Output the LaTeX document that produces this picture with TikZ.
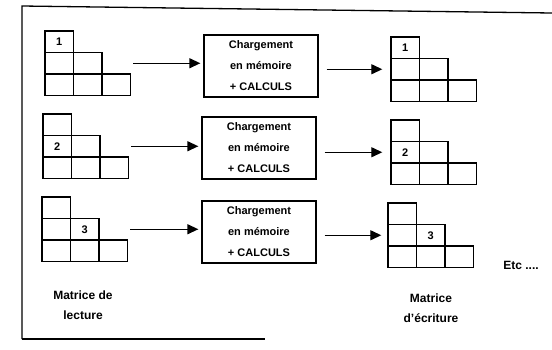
\documentclass[tikz,border=0pt]{standalone}
\usepackage{fontspec}
\setmainfont{Liberation Sans}
\usetikzlibrary{arrows.meta}
\tikzset{
  cell/.style={draw, line width=1.4pt, minimum width=28.5pt, minimum height=21.5pt,
    inner sep=0pt, font=\fontsize{11}{12}\selectfont\bfseries},
  procbox/.style={draw, line width=1.3pt, minimum width=114pt, minimum height=62pt,
    align=center, inner sep=0pt, font=\fontsize{11}{21}\selectfont\bfseries},
  flow/.style={line width=1.3pt, -{Triangle[length=11pt,width=10pt]}},
  lbl/.style={align=center, font=\fontsize{12}{20}\selectfont\bfseries},
  frameline/.style={line width=1.3pt}
}
\newcommand{\tmat}[5]{%
  \foreach \ri in {1,2,3}{\foreach \ci in {1,...,\ri}{%
    \ifnum\ri\ci=#4\relax\def\celltxt{#5}\else\def\celltxt{}\fi
    \node[cell] (#1-\ri\ci) at ({#2+28.5*(\ci-0.5)},{#3+21.5*(\ri-0.5)}) {\celltxt};}}}
\begin{document}
\begin{tikzpicture}[x=1pt,y=-1pt]
\useasboundingbox (0,0) rectangle (552,349);
% frame
\draw[frameline] (22,339) -- (22,6) -- (552,13);
\draw[frameline] (22,339) -- (265,339);
% reading matrices
\tmat{L1}{45}{31}{11}{1}
\tmat{L2}{43}{114}{21}{2}
\tmat{L3}{42}{197}{22}{3}
% writing matrices
\tmat{R1}{391}{37}{11}{1}
\tmat{R2}{391}{120}{21}{2}
\tmat{R3}{388}{203}{22}{3}
% processing boxes
\node[procbox] (b1) at (261,66) {Chargement\\en mémoire\\+ CALCULS};
\node[procbox] (b2) at (259,148) {Chargement\\en mémoire\\+ CALCULS};
\node[procbox] (b3) at (259,232) {Chargement\\en mémoire\\+ CALCULS};
% arrows in
\draw[flow, shorten <=2pt, shorten >=3pt] (L1-33.east |- L1-21) -- (b1.west |- L1-21);
\draw[flow, shorten <=2pt, shorten >=3pt] (L2-33.east |- L2-21) -- (b2.west |- L2-21);
\draw[flow, shorten <=2pt, shorten >=3pt] (L3-33.east |- L3-21) -- (b3.west |- L3-21);
% arrows out
\draw[flow, shorten <=8pt, shorten >=8pt] (b1.east |- R1-21) -- (R1-21.west);
\draw[flow, shorten <=8pt, shorten >=8pt] (b2.east |- R2-21) -- (R2-21.west);
\draw[flow, shorten <=8pt, shorten >=6pt] (b3.east |- R3-21) -- (R3-21.west);
% labels
\node[lbl] (lin) at (83,305) {Matrice de\\lecture};
\node[lbl] (lout) at (431,308) {Matrice\\d'écriture};
\node[lbl] (etc) at (521,265) {Etc ....};
\end{tikzpicture}
\end{document}
